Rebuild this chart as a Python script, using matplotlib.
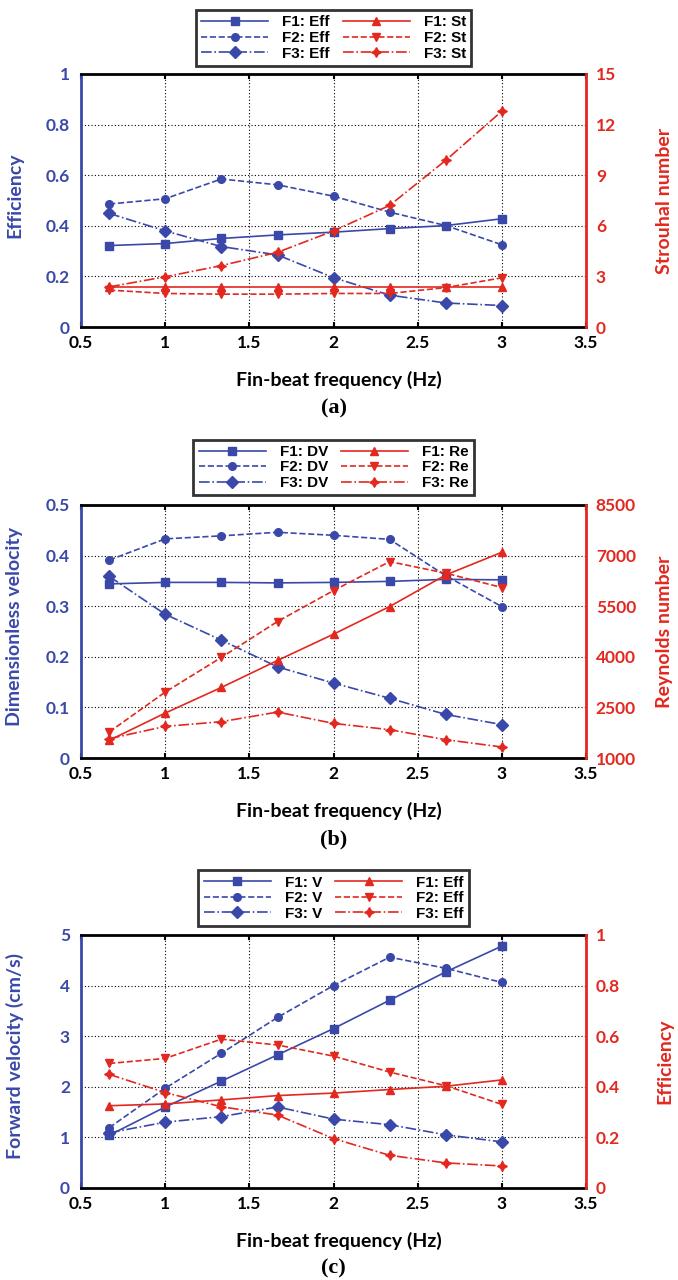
import numpy as np
import matplotlib
matplotlib.use("Agg")
import matplotlib.pyplot as plt

# fin-beat frequencies (Hz)
freq = [0.667, 1.0, 1.333, 1.667, 2.0, 2.333, 2.667, 3.0]

# (a) efficiency and Strouhal number
eff_f1 = [0.322, 0.330, 0.350, 0.364, 0.375, 0.389, 0.401, 0.428]
eff_f2 = [0.486, 0.507, 0.585, 0.562, 0.517, 0.454, 0.401, 0.325]
eff_f3 = [0.449, 0.380, 0.318, 0.285, 0.195, 0.126, 0.095, 0.085]
st_f1 = [2.4, 2.4, 2.4, 2.4, 2.4, 2.4, 2.4, 2.4]
st_f2 = [2.19, 1.99, 1.95, 1.95, 1.99, 1.99, 2.34, 2.92]
st_f3 = [2.38, 2.98, 3.64, 4.43, 5.70, 7.21, 9.89, 12.8]

# (b) dimensionless velocity and Reynolds number
dv_f1 = [0.344, 0.347, 0.347, 0.346, 0.347, 0.349, 0.353, 0.352]
dv_f2 = [0.391, 0.433, 0.439, 0.446, 0.440, 0.432, 0.360, 0.299]
dv_f3 = [0.359, 0.284, 0.233, 0.180, 0.148, 0.118, 0.086, 0.066]
re_f1 = [1523, 2332, 3090, 3891, 4671, 5490, 6427, 7099]
re_f2 = [1770, 2954, 3980, 5046, 5964, 6822, 6477, 6052]
re_f3 = [1572, 1937, 2076, 2362, 2026, 1839, 1543, 1326]

# (c) forward velocity and efficiency
v_f1 = [1.04, 1.60, 2.11, 2.63, 3.15, 3.71, 4.27, 4.78]
v_f2 = [1.19, 1.97, 2.66, 3.37, 4.00, 4.56, 4.34, 4.06]
v_f3 = [1.09, 1.30, 1.41, 1.60, 1.36, 1.25, 1.05, 0.91]
eff2_f1 = [0.325, 0.332, 0.348, 0.365, 0.375, 0.389, 0.402, 0.427]
eff2_f2 = [0.492, 0.512, 0.588, 0.565, 0.521, 0.458, 0.404, 0.330]
eff2_f3 = [0.449, 0.377, 0.321, 0.288, 0.195, 0.129, 0.099, 0.087]

BLUE = "#3a49a9"
RED = "#e2281f"
FONT = ["Lato", "DejaVu Sans"]

blue_styles = [("-", "s"), ("--", "o"), ("-.", "D")]
red_styles = [("-", "^"), ("--", "v"), ("-.", (4, 1, 0))]

panels = [
    dict(bottom=0.7445, leg_y=0.9703, tag="(a)",
         left=[eff_f1, eff_f2, eff_f3], right=[st_f1, st_f2, st_f3],
         lnames=["F1: Eff", "F2: Eff", "F3: Eff"], rnames=["F1: St", "F2: St", "F3: St"],
         ylab="Efficiency", rlab="Strouhal number",
         yticks=[0, 0.2, 0.4, 0.6, 0.8, 1], ytl=["0", "0.2", "0.4", "0.6", "0.8", "1"],
         rticks=[0, 3, 6, 9, 12, 15], rtl=["0", "3", "6", "9", "12", "15"]),
    dict(bottom=0.4078, leg_y=0.6348, tag="(b)",
         left=[dv_f1, dv_f2, dv_f3], right=[re_f1, re_f2, re_f3],
         lnames=["F1: DV", "F2: DV", "F3: DV"], rnames=["F1: Re", "F2: Re", "F3: Re"],
         ylab="Dimensionless velocity", rlab="Reynolds number",
         yticks=[0, 0.1, 0.2, 0.3, 0.4, 0.5], ytl=["0", "0.1", "0.2", "0.3", "0.4", "0.5"],
         rticks=[1000, 2500, 4000, 5500, 7000, 8500],
         rtl=["1000", "2500", "4000", "5500", "7000", "8500"]),
    dict(bottom=0.0719, leg_y=0.2984, tag="(c)",
         left=[v_f1, v_f2, v_f3], right=[eff2_f1, eff2_f2, eff2_f3],
         lnames=["F1: V", "F2: V", "F3: V"], rnames=["F1: Eff", "F2: Eff", "F3: Eff"],
         ylab="Forward velocity (cm/s)", rlab="Efficiency",
         yticks=[0, 1, 2, 3, 4, 5], ytl=["0", "1", "2", "3", "4", "5"],
         rticks=[0, 0.2, 0.4, 0.6, 0.8, 1], rtl=["0", "0.2", "0.4", "0.6", "0.8", "1"]),
]

xticks = [0.5, 1, 1.5, 2, 2.5, 3, 3.5]
xtl = ["0.5", "1", "1.5", "2", "2.5", "3", "3.5"]

fig = plt.figure(figsize=(6.78, 12.8), dpi=100)

for p in panels:
    ax = fig.add_axes([0.1195, p["bottom"], 0.745, 0.1977])
    ax2 = ax.twinx()

    handles = []
    for ys, (ls, mk) in zip(p["left"], blue_styles):
        h, = ax.plot(freq, ys, color=BLUE, ls=ls, marker=mk, ms=5.5 if mk != "D" else 6, lw=1.2)
        handles.append(h)
    for ys, (ls, mk) in zip(p["right"], red_styles):
        h, = ax2.plot(freq, ys, color=RED, ls=ls, marker=mk, ms=7 if mk == (4, 1, 0) else 6, lw=1.2)
        handles.append(h)

    ax.set_xlim(0.5, 3.5)
    ax.set_ylim(p["yticks"][0], p["yticks"][-1])
    ax2.set_ylim(p["rticks"][0], p["rticks"][-1])
    ax.set_xticks(xticks)
    ax.set_xticklabels(xtl, fontfamily=FONT, fontweight="bold", fontsize=12.5)
    ax.set_yticks(p["yticks"])
    ax.set_yticklabels(p["ytl"], fontfamily=FONT, fontweight="bold", fontsize=12.5, color=BLUE)
    ax2.set_yticks(p["rticks"])
    ax2.set_yticklabels(p["rtl"], fontfamily=FONT, fontweight="bold", fontsize=12.5, color=RED)
    ax.tick_params(axis="x", direction="in", length=3.5, width=1.5, top=True, pad=6)
    ax.tick_params(axis="y", length=0, pad=8)
    ax2.tick_params(axis="y", length=0, pad=7)
    ax.grid(True, color="black", ls=(0, (1, 2)), lw=0.8)

    for s in ["top", "bottom"]:
        ax.spines[s].set_linewidth(2.0)
        ax.spines[s].set_color("black")
    ax.spines["left"].set_color(BLUE)
    ax.spines["left"].set_linewidth(2.0)
    ax.spines["right"].set_visible(False)
    ax2.spines["right"].set_color(RED)
    ax2.spines["right"].set_linewidth(2.0)
    for s in ["left", "top", "bottom"]:
        ax2.spines[s].set_visible(False)

    ax.set_ylabel(p["ylab"], fontfamily=FONT, fontweight="bold", fontsize=14, color=BLUE, va="center")
    ax.yaxis.set_label_coords(-0.131, 0.52)
    ax2.set_ylabel(p["rlab"], fontfamily=FONT, fontweight="bold", fontsize=14, color=RED,
                   va="center", rotation=90)
    ax2.yaxis.set_label_coords(1.156, 0.5)
    ax.set_xlabel("Fin-beat frequency (Hz)", fontfamily=FONT, fontweight="bold", fontsize=14, va="center")
    ax.xaxis.set_label_coords(0.51, -0.21)

    fig.text(0.492, p["bottom"] - 81 / 1280, p["tag"], ha="center", va="center",
             fontfamily="Liberation Serif", fontweight="bold", fontsize=16)

    leg = fig.legend(handles, p["lnames"] + p["rnames"], ncol=2, loc="center",
                     bbox_to_anchor=(0.492, p["leg_y"]), frameon=True, fancybox=False,
                     prop=dict(family="Liberation Sans", weight="bold", size=11),
                     handlelength=4.4, handletextpad=0.9, columnspacing=0.85,
                     borderpad=0.35, labelspacing=0.1, borderaxespad=0)
    leg.get_frame().set_edgecolor("black")
    leg.get_frame().set_linewidth(2.0)

fig.savefig("out.png", dpi=100)
